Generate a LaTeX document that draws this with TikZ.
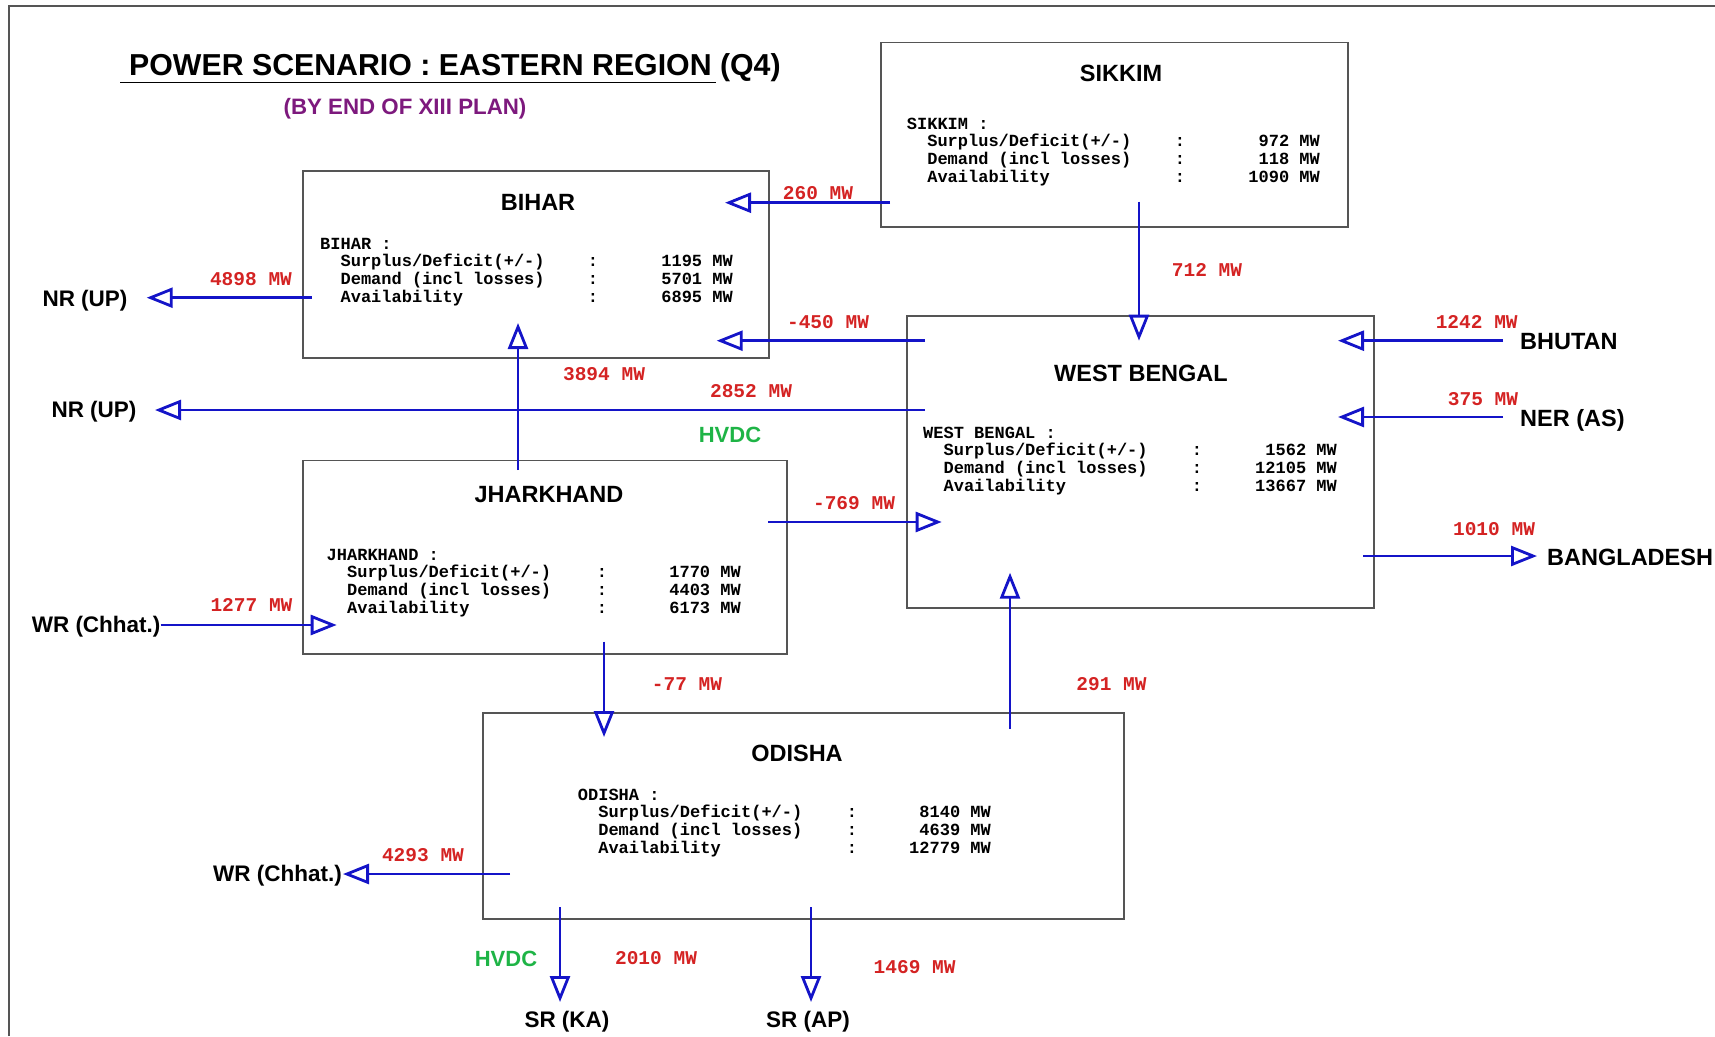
\documentclass[tikz,border=0pt]{standalone}
\usepackage{fontspec}
\setmainfont{Liberation Sans}
\newfontfamily\monof{Liberation Mono}
\usetikzlibrary{arrows.meta,calc}
\definecolor{flowblue}{RGB}{20,20,200}
\definecolor{flowred}{RGB}{212,35,35}
\definecolor{subpurple}{RGB}{125,25,125}
\definecolor{hvdcgreen}{RGB}{30,180,70}
\definecolor{boxgray}{RGB}{85,85,85}
\tikzset{
  statebox/.style={draw=boxgray, line width=1.6pt, anchor=north west, inner sep=0pt},
  boxtitle/.style={font=\fontsize{23.5}{26}\selectfont\bfseries, inner sep=0pt},
  mono/.style={font=\monof\bfseries\fontsize{17}{20}\selectfont, inner sep=0pt},
  flowlbl/.style={font=\monof\bfseries\fontsize{19.5}{22}\selectfont, text=flowred, inner sep=0pt},
  extlbl/.style={font=\fontsize{22.5}{25}\selectfont\bfseries, inner sep=0pt},
  extlblb/.style={font=\fontsize{23.5}{26}\selectfont\bfseries, inner sep=0pt},
  hvdc/.style={font=\fontsize{22}{25}\selectfont\bfseries, text=hvdcgreen, inner sep=0pt},
  flow/.style={draw=flowblue, line width=2.8pt, -{Triangle[open, length=26pt, width=20pt]}},
}
% #1 name, #2 x0, #3 heading baseline, #4 colon x, #5 value right x, #6 heading, #7-#9 values
\newcommand{\statlines}[9]{%
  \node[mono, anchor=base west] (#1-h) at (#2,#3) {#6 :};
  \node[mono, anchor=base west] (#1-l1) at ($(#2,#3)+(20.4,17.7)$) {Surplus/Deficit(+/-)};
  \node[mono, anchor=base west] (#1-l2) at ($(#2,#3)+(20.4,35.4)$) {Demand (incl losses)};
  \node[mono, anchor=base west] (#1-l3) at ($(#2,#3)+(20.4,53.1)$) {Availability};
  \node[mono, anchor=base] (#1-c1) at (#4,#3+17.7) {:};
  \node[mono, anchor=base] (#1-c2) at (#4,#3+35.4) {:};
  \node[mono, anchor=base] (#1-c3) at (#4,#3+53.1) {:};
  \node[mono, anchor=base east] (#1-v1) at (#5,#3+17.7) {#7 MW};
  \node[mono, anchor=base east] (#1-v2) at (#5,#3+35.4) {#8 MW};
  \node[mono, anchor=base east] (#1-v3) at (#5,#3+53.1) {#9 MW};
}
\begin{document}
\begin{tikzpicture}[x=1pt,y=-1pt]
\useasboundingbox (0,0) rectangle (1715,1036);
% frame
\draw[draw=boxgray, line width=2pt] (9,1036) -- (9,5.5) -- (1715,5.5);
% title
\node[font=\fontsize{30.3}{34}\selectfont\bfseries, anchor=base west, inner sep=0pt] (title) at (129,75) {POWER SCENARIO : EASTERN REGION (Q4)};
\coordinate (ulA) at (120,82.5);
\coordinate (ulB) at (716,82.5);
\draw[line width=1.2pt] (ulA) -- (ulB);
\node[font=\fontsize{22.3}{25}\selectfont\bfseries, text=subpurple, inner sep=0pt] (subtitle) at (405,109) {(BY END OF XIII PLAN)};

% boxes
\node[statebox, minimum width=466pt, minimum height=187pt] (bihar) at (302,170) {};
\node[statebox, minimum width=467pt, minimum height=184.5pt] (sikkim) at (880,41.7) {};
\node[statebox, minimum width=467pt, minimum height=292pt] (wb) at (906,315) {};
\node[statebox, minimum width=484pt, minimum height=193.5pt] (jh) at (302,459.5) {};
\node[statebox, minimum width=641pt, minimum height=206pt] (od) at (482,712) {};

% box titles
\node[boxtitle] (bihar-t) at (538,202) {BIHAR};
\node[boxtitle] (sikkim-t) at (1121,73) {SIKKIM};
\node[boxtitle] (wb-t) at (1141,373) {WEST BENGAL};
\node[boxtitle] (jh-t) at (549,495) {JHARKHAND};
\node[boxtitle] (od-t) at (797,753) {ODISHA};

% box statistics
\statlines{bihar}{320}{249}{593}{733}{BIHAR}{1195}{5701}{6895}
\statlines{sikkim}{906.7}{129}{1180}{1320}{SIKKIM}{972}{118}{1090}
\statlines{wb}{923}{438}{1197}{1337}{WEST BENGAL}{1562}{12105}{13667}
\statlines{jh}{326.5}{560}{602}{741}{JHARKHAND}{1770}{4403}{6173}
\statlines{od}{577.7}{800}{852}{991}{ODISHA}{8140}{4639}{12779}

% external regions
\node[extlbl] (nr1) at (85,300.5) {NR (UP)};
\node[extlbl] (nr2) at (94,412) {NR (UP)};
\node[extlblb, anchor=west] (bhutan) at (1520,342) {BHUTAN};
\node[extlblb, anchor=west] (ner) at (1520,420) {NER (AS)};
\node[extlblb, anchor=west] (bangla) at (1547,557) {BANGLADESH};
\node[extlbl, anchor=east] (wr1) at (160.7,627) {WR (Chhat.)};
\node[extlbl, anchor=east] (wr2) at (342,876) {WR (Chhat.)};
\node[extlbl] (srka) at (567,1022) {SR (KA)};
\node[extlbl] (srap) at (808,1022) {SR (AP)};

% connector end points
\coordinate (sk-w) at (890,202.7);
\coordinate (bh-e) at (725,202.7);
\coordinate (sk-s) at (1139,201.7);
\coordinate (wb-n) at (1139,340.7);
\coordinate (bh-w) at (311.7,297.7);
\coordinate (nr1-e) at (146.7,297.7);
\coordinate (wb-w1) at (925,340.7);
\coordinate (bh-e2) at (716.7,340.7);
\coordinate (wb-w2) at (925,410);
\coordinate (nr2-e) at (155,410);
\coordinate (bhutan-w) at (1503,340.7);
\coordinate (wb-e1) at (1338,340.7);
\coordinate (ner-w) at (1503,417);
\coordinate (wb-e2) at (1338,417);
\coordinate (jh-n) at (518,470);
\coordinate (bh-s) at (518,323);
\coordinate (jh-e) at (768,522);
\coordinate (wb-w3) at (941.7,522);
\coordinate (wb-e3) at (1363,556);
\coordinate (bangla-w) at (1537,556);
\coordinate (wr1-e) at (160.7,625);
\coordinate (jh-w) at (336.7,625);
\coordinate (jh-s) at (604,641.7);
\coordinate (od-n1) at (604,737);
\coordinate (od-n2) at (1010,729);
\coordinate (wb-s) at (1010,572.7);
\coordinate (od-w) at (510,874);
\coordinate (wr2-e) at (343,874);
\coordinate (od-s1) at (560,907);
\coordinate (srka-n) at (560,1002);
\coordinate (od-s2) at (811,907);
\coordinate (srap-n) at (811,1002);

% flows
\draw[flow] (sk-w) -- (bh-e);
\draw[flow] (sk-s) -- (wb-n);
\draw[flow] (bh-w) -- (nr1-e);
\draw[flow] (wb-w1) -- (bh-e2);
\draw[flow] (wb-w2) -- (nr2-e);
\draw[flow] (bhutan-w) -- (wb-e1);
\draw[flow] (ner-w) -- (wb-e2);
\draw[flow] (jh-n) -- (bh-s);
\draw[flow] (jh-e) -- (wb-w3);
\draw[flow] (wb-e3) -- (bangla-w);
\draw[flow] (wr1-e) -- (jh-w);
\draw[flow] (jh-s) -- (od-n1);
\draw[flow] (od-n2) -- (wb-s);
\draw[flow] (od-w) -- (wr2-e);
\draw[flow] (od-s1) -- (srka-n);
\draw[flow] (od-s2) -- (srap-n);

% flow labels
\node[flowlbl] (f260) at (818,193) {260 MW};
\node[flowlbl] (f4898) at (251,279) {4898 MW};
\node[flowlbl] (f712) at (1207,270) {712 MW};
\node[flowlbl] (f450) at (828,321.7) {-450 MW};
\node[flowlbl] (f1242) at (1476.7,321.7) {1242 MW};
\node[flowlbl] (f3894) at (604,374) {3894 MW};
\node[flowlbl] (f2852) at (751,390.7) {2852 MW};
\node[flowlbl] (f375) at (1483,399) {375 MW};
\node[hvdc] (hvdc1) at (730,435) {HVDC};
\node[flowlbl] (f769) at (854,503) {-769 MW};
\node[flowlbl] (f1010) at (1494,529) {1010 MW};
\node[flowlbl] (f1277) at (251.5,605) {1277 MW};
\node[flowlbl] (f77) at (687,684) {-77 MW};
\node[flowlbl] (f291) at (1111.5,684) {291 MW};
\node[flowlbl] (f4293) at (423,855) {4293 MW};
\node[hvdc] (hvdc2) at (506,959) {HVDC};
\node[flowlbl] (f2010) at (656,958) {2010 MW};
\node[flowlbl] (f1469) at (914.6,967) {1469 MW};
\end{tikzpicture}
\end{document}
